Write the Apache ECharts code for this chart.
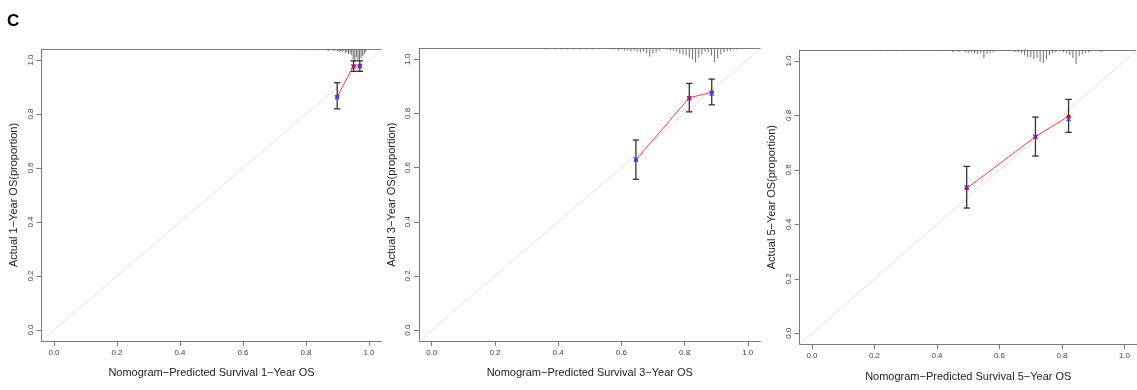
<!DOCTYPE html>
<html>
<head>
<meta charset="utf-8">
<script src="https://cdn.jsdelivr.net/npm/echarts@6/dist/echarts.min.js"></script>
<style>
html,body{margin:0;padding:0;background:#fff;}
#chart{width:1137px;height:390px;}
</style>
</head>
<body>
<div id="chart"></div>
<script>
// ---------- data ----------
const panelLetter = 'C';
const tickValues = [0, 0.2, 0.4, 0.6, 0.8, 1.0];
const xTitles = ['Nomogram\u2212Predicted Survival 1\u2212Year OS', 'Nomogram\u2212Predicted Survival 3\u2212Year OS', 'Nomogram\u2212Predicted Survival 5\u2212Year OS'];
const yTitles = ['Actual 1\u2212Year OS(proportion)', 'Actual 3\u2212Year OS(proportion)', 'Actual 5\u2212Year OS(proportion)'];

// 1-year
const pred1 = [0.899, 0.951, 0.971];
const obs1 = [0.864, 0.978, 0.978];
const lo1 = [0.819, 0.958, 0.958];
const hi1 = [0.916, 0.997, 0.997];
const corr1 = [0.862, 0.976, 0.977];
const histX1 = [0.78, 0.80, 0.81, 0.83, 0.84, 0.855, 0.87, 0.88, 0.89, 0.90, 0.905, 0.91, 0.915, 0.92, 0.925, 0.93, 0.935, 0.94, 0.945, 0.95, 0.955, 0.96, 0.965, 0.97, 0.975, 0.98, 0.985, 0.99];
const histN1 = [1, 1, 1, 1, 1, 1, 2, 1, 2, 2, 3, 2, 3, 2, 4, 3, 5, 4, 6, 10, 13, 8, 11, 13, 9, 7, 5, 3];

// 3-year
const pred2 = [0.646, 0.815, 0.886];
const obs2 = [0.628, 0.858, 0.878];
const lo2 = [0.557, 0.806, 0.832];
const hi2 = [0.702, 0.911, 0.927];
const corr2 = [0.630, 0.856, 0.874];
const histX2 = [0.36, 0.39, 0.41, 0.43, 0.45, 0.47, 0.49, 0.51, 0.57, 0.58, 0.59, 0.60, 0.61, 0.62, 0.63, 0.64, 0.65, 0.66, 0.67, 0.68, 0.69, 0.70, 0.71, 0.72, 0.745, 0.755, 0.765, 0.775, 0.785, 0.795, 0.805, 0.815, 0.825, 0.835, 0.845, 0.855, 0.865, 0.875, 0.885, 0.895, 0.905, 0.915, 0.925, 0.935, 0.945, 0.955, 0.965];
const histN2 = [1, 1, 1, 1, 1, 1, 1, 1, 1, 1, 2, 1, 2, 2, 3, 2, 3, 4, 3, 5, 8, 5, 4, 2, 1, 2, 2, 3, 5, 6, 7, 9, 11, 14, 9, 6, 3, 4, 7, 14, 10, 6, 4, 3, 2, 1, 1];

// 5-year
const pred3 = [0.495, 0.715, 0.821];
const obs3 = [0.532, 0.722, 0.797];
const lo3 = [0.460, 0.651, 0.738];
const hi3 = [0.613, 0.794, 0.859];
const corr3 = [0.536, 0.722, 0.787];
const histX3 = [0.20, 0.22, 0.24, 0.25, 0.27, 0.29, 0.32, 0.34, 0.41, 0.42, 0.44, 0.45, 0.46, 0.47, 0.48, 0.49, 0.50, 0.51, 0.52, 0.53, 0.54, 0.55, 0.56, 0.57, 0.58, 0.59, 0.63, 0.64, 0.65, 0.66, 0.67, 0.68, 0.69, 0.70, 0.71, 0.72, 0.73, 0.74, 0.75, 0.76, 0.77, 0.78, 0.805, 0.815, 0.825, 0.835, 0.845, 0.855, 0.865, 0.875, 0.885, 0.895, 0.91, 0.925, 0.935];
const histN3 = [1, 1, 1, 1, 1, 1, 1, 1, 1, 1, 1, 2, 1, 2, 1, 2, 3, 2, 3, 4, 3, 8, 4, 3, 2, 1, 1, 1, 2, 2, 3, 5, 7, 7, 9, 8, 12, 13, 9, 5, 3, 2, 2, 3, 5, 8, 14, 6, 4, 3, 2, 1, 1, 2, 1];

const axisRange = [-0.04, 1.04];
const identityLine = [[-0.04, -0.04], [1.04, 1.04]];

// ---------- layout ----------
const panels = [
  {pred: pred1, obs: obs1, lo: lo1, hi: hi1, corr: corr1, hx: histX1, hn: histN1,
   grid: {left: 41.4, top: 49.2, width: 340.2, height: 291.6}},
  {pred: pred2, obs: obs2, lo: lo2, hi: hi2, corr: corr2, hx: histX2, hn: histN2,
   grid: {left: 419.1, top: 48.5, width: 341.3, height: 292.4}},
  {pred: pred3, obs: obs3, lo: lo3, hi: hi3, corr: corr3, hx: histX3, hn: histN3,
   grid: {left: 799.5, top: 50.1, width: 345.6, height: 294.1}}
];

const FONT = '"Liberation Sans", Arial, sans-serif';
const AXIS_COLOR = '#7a7a7a';

const grids = [], xAxes = [], yAxes = [], series = [];

panels.forEach((p, i) => {
  grids.push(Object.assign({containLabel: false, show: false}, p.grid));
  // bottom x axis
  xAxes.push({
    type: 'value', gridIndex: i, position: 'bottom',
    min: axisRange[0], max: axisRange[1],
    axisLine: {show: true, onZero: false, lineStyle: {color: AXIS_COLOR, width: 1}},
    axisTick: {show: true, length: 5, customValues: tickValues, lineStyle: {color: AXIS_COLOR}},
    axisLabel: {customValues: tickValues, formatter: v => v.toFixed(1), fontSize: 8, color: '#444', margin: 8, fontFamily: FONT},
    splitLine: {show: false},
    name: xTitles[i], nameLocation: 'middle', nameGap: 27,
    nameTextStyle: {fontSize: 11, color: '#222', fontFamily: FONT}
  });
  // top frame line
  xAxes.push({
    type: 'value', gridIndex: i, position: 'top',
    min: axisRange[0], max: axisRange[1],
    axisLine: {show: true, onZero: false, lineStyle: {color: AXIS_COLOR, width: 1}},
    axisTick: {show: false}, axisLabel: {show: false}, splitLine: {show: false}
  });
  yAxes.push({
    type: 'value', gridIndex: i, position: 'left',
    min: axisRange[0], max: axisRange[1],
    axisLine: {show: true, onZero: false, lineStyle: {color: AXIS_COLOR, width: 1}},
    axisTick: {show: true, length: 5, customValues: tickValues, lineStyle: {color: AXIS_COLOR}},
    axisLabel: {customValues: tickValues, formatter: v => v.toFixed(1), fontSize: 8, color: '#444', margin: 7, rotate: 90, fontFamily: FONT},
    splitLine: {show: false},
    name: yTitles[i], nameLocation: 'middle', nameGap: 22,
    nameTextStyle: {fontSize: 11, color: '#222', fontFamily: FONT}
  });
  const xi = i * 2, yi = i;

  // ideal diagonal
  series.push({
    type: 'line', xAxisIndex: xi, yAxisIndex: yi, data: identityLine,
    symbol: 'none', silent: true, lineStyle: {color: '#e2e2e2', width: 1}, z: 1
  });
  // risk distribution histogram along the top
  series.push({
    type: 'custom', xAxisIndex: xi, yAxisIndex: yi,
    data: p.hx.map((x, k) => [x, p.hn[k]]),
    encode: {x: 0},
    renderItem: (params, api) => {
      const c = api.coord([api.value(0), axisRange[1]]);
      return {type: 'line', shape: {x1: c[0], y1: c[1], x2: c[0], y2: c[1] + api.value(1)},
              style: {stroke: '#6e6e6e', lineWidth: 1}};
    }, z: 2
  });
  // error bars
  series.push({
    type: 'custom', xAxisIndex: xi, yAxisIndex: yi,
    data: p.pred.map((x, k) => [x, p.lo[k], p.hi[k]]),
    encode: {x: 0, y: [1, 2]},
    renderItem: (params, api) => {
      const a = api.coord([api.value(0), api.value(1)]);
      const b = api.coord([api.value(0), api.value(2)]);
      const w = 3.2;
      const st = {stroke: '#333', lineWidth: 1.3};
      return {type: 'group', children: [
        {type: 'line', shape: {x1: a[0], y1: a[1], x2: b[0], y2: b[1]}, style: st},
        {type: 'line', shape: {x1: a[0] - w, y1: a[1], x2: a[0] + w, y2: a[1]}, style: st},
        {type: 'line', shape: {x1: b[0] - w, y1: b[1], x2: b[0] + w, y2: b[1]}, style: st}
      ]};
    }, z: 3
  });
  // observed line (red)
  series.push({
    type: 'line', xAxisIndex: xi, yAxisIndex: yi,
    data: p.pred.map((x, k) => [x, p.obs[k]]),
    symbol: 'circle', symbolSize: 4, showSymbol: true,
    itemStyle: {color: '#ff0000'}, lineStyle: {color: '#ff3c3c', width: 1}, z: 4
  });
  // bias-corrected (blue x)
  series.push({
    type: 'custom', xAxisIndex: xi, yAxisIndex: yi,
    data: p.pred.map((x, k) => [x, p.corr[k]]),
    encode: {x: 0, y: 1},
    renderItem: (params, api) => {
      const c = api.coord([api.value(0), api.value(1)]);
      const s = 2.2;
      const st = {stroke: '#3a3aff', lineWidth: 1.1};
      return {type: 'group', children: [
        {type: 'line', shape: {x1: c[0] - s, y1: c[1] - s, x2: c[0] + s, y2: c[1] + s}, style: st},
        {type: 'line', shape: {x1: c[0] - s, y1: c[1] + s, x2: c[0] + s, y2: c[1] - s}, style: st}
      ]};
    }, z: 5
  });
});

const chart = echarts.init(document.getElementById('chart'), null, {renderer: 'canvas'});
chart.setOption({
  animation: false,
  backgroundColor: '#ffffff',
  title: {text: panelLetter, left: 7, top: 13, padding: 0,
          textStyle: {fontSize: 17, fontWeight: 'bold', color: '#000', fontFamily: FONT}},
  grid: grids, xAxis: xAxes, yAxis: yAxes, series: series
});
</script>
</body>
</html>
